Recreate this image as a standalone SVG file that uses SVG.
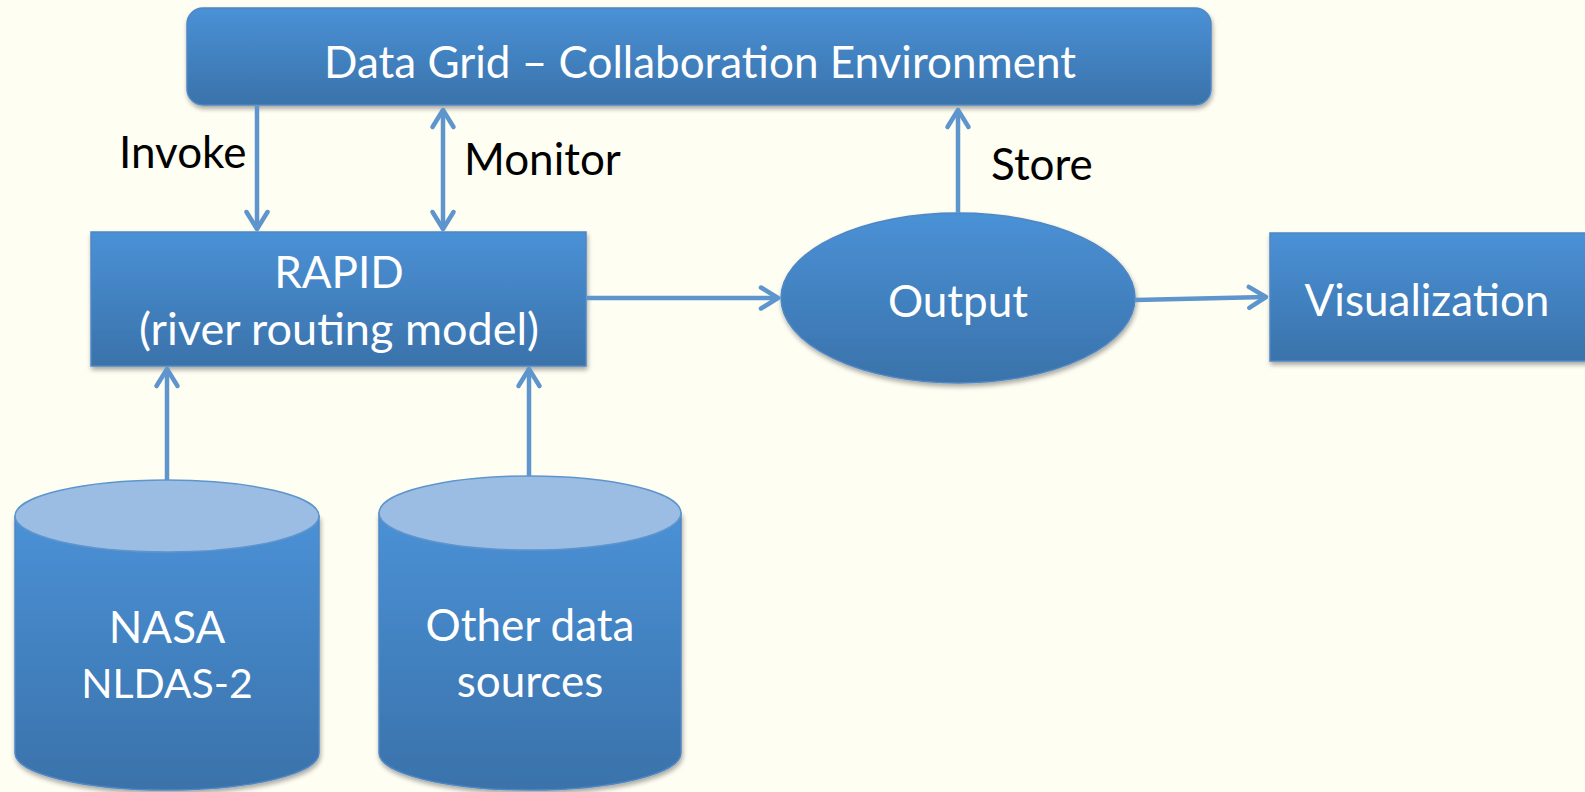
<svg xmlns="http://www.w3.org/2000/svg" width="1585" height="792" viewBox="0 0 1585 792">
<defs>
<linearGradient id="blue" x1="0" y1="0" x2="0" y2="1">
<stop offset="0" stop-color="#4A91D6"/>
<stop offset="1" stop-color="#3A72AA"/>
</linearGradient>
<filter id="sh" x="-5%" y="-5%" width="110%" height="120%">
<feGaussianBlur in="SourceAlpha" stdDeviation="2.5"/>
<feOffset dx="1" dy="3" result="b"/>
<feComponentTransfer><feFuncA type="linear" slope="0.35"/></feComponentTransfer>
<feMerge><feMergeNode/><feMergeNode in="SourceGraphic"/></feMerge>
</filter>
<marker id="ah" markerUnits="userSpaceOnUse" markerWidth="40" markerHeight="40" refX="0" refY="0" orient="auto-start-reverse" overflow="visible">
<path d="M-17,-10.5 L0,0 L-17,10.5" fill="none" stroke="#5E95CD" stroke-width="4.5" stroke-linecap="round" stroke-linejoin="round"/>
</marker>
</defs>
<style>
.node{fill:url(#blue);stroke:#4F86C4;stroke-width:1.5;filter:url(#sh)}
.cap{fill:#9BBDE3;stroke:#5E95CD;stroke-width:1.5}
.wt{font-family:Lato,"Open Sans",sans-serif;font-size:44px;fill:#ffffff;text-anchor:middle}
.bt{font-family:Lato,"Open Sans",sans-serif;font-size:44px;fill:#000000}
.conn line{stroke:#5E95CD;stroke-width:4.5;marker-end:url(#ah)}
</style>
<rect width="1585" height="792" fill="#FEFEF3"/>

<g id="datagrid">
<rect class="node" x="187" y="8" width="1024" height="97" rx="16"/>
<text class="wt" x="700" y="78">Data Grid – Collaboration Environment</text>
</g>

<g id="rapid">
<rect class="node" x="91" y="232" width="495" height="134"/>
<text class="wt" x="339" y="288">RAPID</text>
<text class="wt" x="339" y="345" style="font-size:45px">(river routing model)</text>
</g>

<g id="output">
<ellipse class="node" cx="958" cy="298" rx="177" ry="85"/>
<text class="wt" x="958" y="317">Output</text>
</g>

<g id="visualization">
<rect class="node" x="1270" y="233" width="322" height="128"/>
<text class="wt" x="1427" y="316">Visualization</text>
</g>

<g id="nasa">
<path class="node" d="M15,516 L15,753 A152,37 0 0 0 319,753 L319,516 Z"/>
<ellipse class="cap" cx="167" cy="516" rx="152" ry="36"/>
<text class="wt" x="167" y="643">NASA</text>
<text class="wt" x="167" y="698" style="font-size:41px">NLDAS-2</text>
</g>

<g id="other">
<path class="node" d="M379,513 L379,753 A151,37 0 0 0 681,753 L681,513 Z"/>
<ellipse class="cap" cx="530" cy="513" rx="151" ry="37"/>
<text class="wt" x="530" y="641">Other data</text>
<text class="wt" x="530" y="697">sources</text>
</g>

<g id="connectors" class="conn">
<line x1="257" y1="106" x2="257" y2="229"/>
<line x1="443" y1="110" x2="443" y2="229" marker-start="url(#ah)"/>
<line x1="958" y1="213" x2="958" y2="110"/>
<line x1="167" y1="480" x2="167" y2="369"/>
<line x1="529" y1="476" x2="529" y2="369"/>
<line x1="586" y1="298" x2="778" y2="298"/>
<line x1="1135" y1="300" x2="1266" y2="297"/>
</g>

<g id="labels">
<text class="bt" x="119" y="168">Invoke</text>
<text class="bt" x="464" y="175">Monitor</text>
<text class="bt" x="991" y="180">Store</text>
</g>
</svg>
